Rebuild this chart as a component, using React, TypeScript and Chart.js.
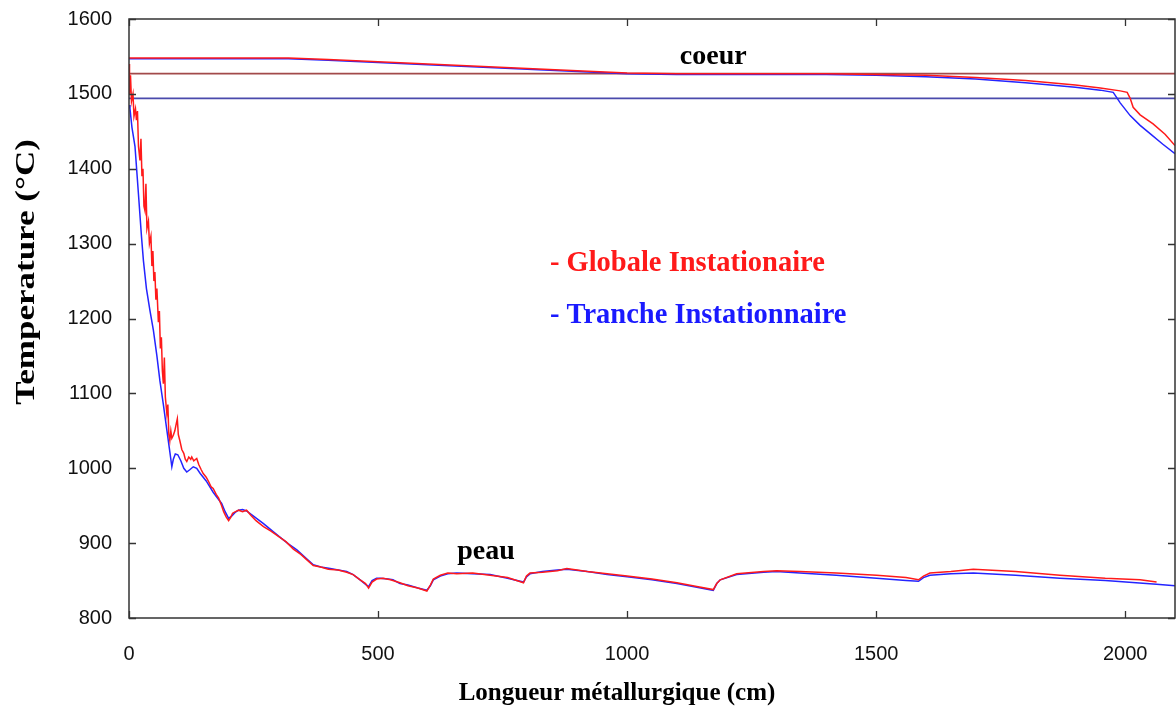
import React, { useEffect, useRef } from "react";
import { Chart, registerables } from "chart.js";

Chart.register(...registerables);

// ---- axes ----
const X_MIN = 0;
const X_MAX = 2100;
const Y_MIN = 800;
const Y_MAX = 1600;
const xTicks = [0, 500, 1000, 1500, 2000];
const yTicks = [800, 900, 1000, 1100, 1200, 1300, 1400, 1500, 1600];

// ---- texts ----
const xTitle = "Longueur métallurgique (cm)";
const yTitle = "Temperature (°C)";
const legendGlobale = "- Globale Instationaire";
const legendTranche = "- Tranche Instationnaire";
const labelCoeur = "coeur";
const labelPeau = "peau";

// ---- reference horizontal lines (°C) ----
const ligneHaute = 1527;
const ligneBasse = 1494;

// ---- coeur (core) temperature ----
const coeurGlobaleX = [0, 320, 400, 500, 600, 700, 800, 900, 1000, 1100, 1200, 1300, 1400, 1500, 1600, 1700, 1800, 1900, 1950, 1990, 2004, 2010, 2016, 2030, 2056, 2080, 2100];
const coeurGlobaleT = [1548, 1548, 1546, 1543, 1540, 1537, 1534, 1531, 1528, 1527, 1527, 1527, 1527, 1526, 1525, 1522, 1518, 1512, 1508, 1504, 1502, 1494, 1482, 1472, 1460, 1446, 1431];

const coeurTrancheX = [0, 320, 400, 500, 600, 700, 800, 900, 1000, 1100, 1200, 1300, 1400, 1500, 1600, 1700, 1800, 1900, 1950, 1976, 1990, 2010, 2030, 2050, 2075, 2100];
const coeurTrancheT = [1547, 1547, 1545, 1542, 1539, 1536, 1533, 1530, 1527, 1526, 1526, 1526, 1526, 1525, 1523, 1520, 1515, 1509, 1505, 1502, 1488, 1471, 1458, 1447, 1433, 1420];

// ---- peau (skin) temperature ----
const peauTrancheX = [0, 2, 6, 12, 19, 25, 29, 35, 42, 49, 56, 62, 69, 76, 82, 86, 89, 93, 98, 104, 110, 116, 122, 129, 136, 143, 155, 169, 178, 186, 193, 200, 206, 213, 220, 228, 236, 250, 270, 290, 303, 320, 337, 355, 370, 385, 404, 420, 437, 450, 464, 475, 481, 488, 497, 504, 520, 530, 544, 560, 580, 598, 605, 611, 625, 640, 658, 690, 725, 760, 792, 798, 805, 830, 860, 879, 920, 960, 1000, 1050, 1100, 1140, 1173, 1180, 1187, 1220, 1274, 1300, 1347, 1420, 1501, 1560, 1585, 1595, 1608, 1650, 1695, 1780, 1869, 1960, 2063, 2100];
const peauTrancheT = [1485, 1480, 1455, 1430, 1366, 1310, 1277, 1240, 1211, 1184, 1150, 1117, 1085, 1051, 1022, 1002, 1012, 1019, 1018, 1010, 1000, 995, 998, 1002, 1000, 993, 983, 968, 960, 953, 942, 933, 936, 941, 944, 945, 943, 936, 926, 915, 908, 899, 891, 880, 871, 868, 866, 864, 862, 858, 851, 845, 842, 850, 853, 853, 852, 851, 846, 844, 840, 837, 843, 851, 856, 859, 860, 859, 858, 853, 848, 855, 859, 862, 864, 865, 862, 858, 855, 851, 846, 841, 837, 846, 851, 858, 861, 862, 860, 857, 853, 850, 849, 854, 857, 859, 860, 857, 853, 850, 845, 843];

const peauGlobaleX = [0, 1, 3, 5, 8, 10, 13, 15, 17, 19, 22, 24, 26, 28, 30, 32, 34, 36, 39, 41, 44, 46, 48, 50, 52, 54, 56, 59, 61, 63, 65, 67, 69, 71, 73, 76, 78, 80, 82, 84, 86, 89, 92, 95, 97, 99, 102, 106, 110, 113, 116, 120, 124, 126, 130, 136, 140, 145, 149, 155, 160, 165, 169, 175, 180, 186, 190, 195, 200, 204, 208, 214, 220, 228, 236, 245, 255, 270, 285, 300, 315, 330, 345, 360, 370, 385, 400, 420, 437, 450, 464, 475, 481, 488, 497, 510, 525, 544, 560, 580, 598, 605, 611, 625, 640, 658, 690, 725, 760, 792, 798, 805, 830, 860, 879, 920, 960, 1000, 1050, 1100, 1140, 1173, 1180, 1187, 1220, 1274, 1300, 1347, 1420, 1501, 1560, 1585, 1595, 1608, 1650, 1695, 1780, 1869, 1960, 2030, 2063];
const peauGlobaleT = [1540, 1500, 1525, 1490, 1500, 1470, 1480, 1465, 1477, 1430, 1411, 1440, 1390, 1400, 1350, 1344, 1380, 1320, 1330, 1300, 1310, 1270, 1290, 1250, 1262, 1225, 1240, 1195, 1210, 1160, 1175, 1130, 1113, 1148, 1095, 1073, 1085, 1045, 1037, 1050, 1040, 1044, 1050, 1060, 1066, 1045, 1037, 1025, 1020, 1012, 1009, 1015, 1012, 1015, 1010, 1013, 1005, 998, 993, 988, 982, 975, 973, 965, 960, 950, 942, 935, 930, 934, 940, 942, 944, 942, 944, 937, 930, 922, 916, 909, 902, 892, 885, 876, 870, 868, 865, 864, 861, 858, 851, 846, 840, 848, 852, 853, 851, 847, 843, 840, 836, 844, 852, 857, 860, 859, 860, 857, 854, 847, 856, 860, 861, 863, 866, 862, 859, 856, 852, 847, 842, 838, 846, 851, 859, 862, 863, 862, 860, 857, 854, 851, 856, 860, 862, 865, 862, 857, 853, 851, 848];

const RED = "#ff1a1a";
const BLUE = "#2424ff";
const BROWN = "#a24a4a";
const NAVY = "#4a4aac";

// the canvas is shifted up by this many pixels on the page
const SHIFT = 10;

const toPoints = (xs: number[], ys: number[]) => xs.map((x, i) => ({ x, y: ys[i] }));

const overlayPlugin = {
  id: "overlay",
  afterDatasetsDraw(chart: any) {
    const { ctx, chartArea, scales } = chart;
    const { left, right, top, bottom } = chartArea;
    const xs = scales.x;
    const ys = scales.y;
    ctx.save();
    // frame
    ctx.strokeStyle = "#333333";
    ctx.lineWidth = 1.5;
    ctx.strokeRect(left, top, right - left, bottom - top);
    // inward ticks, mirrored
    ctx.lineWidth = 1.3;
    ctx.beginPath();
    const tl = 7;
    xTicks.forEach((v) => {
      const px = Math.round(xs.getPixelForValue(v)) + 0.5;
      ctx.moveTo(px, bottom);
      ctx.lineTo(px, bottom - tl);
      ctx.moveTo(px, top);
      ctx.lineTo(px, top + tl);
    });
    yTicks.forEach((v) => {
      const py = Math.round(ys.getPixelForValue(v)) + 0.5;
      ctx.moveTo(left, py);
      ctx.lineTo(left + tl, py);
      ctx.moveTo(right, py);
      ctx.lineTo(right - tl, py);
    });
    ctx.stroke();

    // annotations
    ctx.textBaseline = "alphabetic";
    ctx.fillStyle = "#000000";
    ctx.font = "bold 28px 'Liberation Serif', 'Times New Roman', serif";
    ctx.textAlign = "center";
    ctx.fillText(labelCoeur, xs.getPixelForValue(1173), ys.getPixelForValue(1540));
    ctx.textAlign = "left";
    ctx.fillText(labelPeau, xs.getPixelForValue(659), ys.getPixelForValue(879));

    ctx.font = "bold 28.5px 'Liberation Serif', 'Times New Roman', serif";
    ctx.fillStyle = "#ff1a1a";
    ctx.fillText(legendGlobale, xs.getPixelForValue(845), ys.getPixelForValue(1263));
    ctx.fillStyle = "#1a1aff";
    ctx.fillText(legendTranche, xs.getPixelForValue(845), ys.getPixelForValue(1194));

    // axis titles
    ctx.fillStyle = "#000000";
    ctx.font = "bold 25px 'Liberation Serif', 'Times New Roman', serif";
    ctx.textAlign = "center";
    ctx.fillText(xTitle, 617, 700 + SHIFT);

    ctx.save();
    ctx.translate(34, 272 + SHIFT);
    ctx.rotate(-Math.PI / 2);
    ctx.scale(1.25, 1);
    ctx.font = "bold 28px 'Liberation Serif', 'Times New Roman', serif";
    ctx.textAlign = "center";
    ctx.fillText(yTitle, 0, 0);
    ctx.restore();

    ctx.restore();
  },
};

export default function App() {
  const canvasRef = useRef<HTMLCanvasElement | null>(null);

  useEffect(() => {
    if (!canvasRef.current) return;
    const line = (data: any[], color: string, order: number, width = 1.5) => ({
      data,
      borderColor: color,
      backgroundColor: color,
      borderWidth: width,
      pointRadius: 0,
      tension: 0,
      fill: false,
      order,
    });
    const chart = new Chart(canvasRef.current, {
      type: "line",
      data: {
        datasets: [
          line(toPoints([X_MIN, X_MAX], [ligneHaute, ligneHaute]), BROWN, 6, 1.6),
          line(toPoints([X_MIN, X_MAX], [ligneBasse, ligneBasse]), NAVY, 6, 1.6),
          line(toPoints(coeurTrancheX, coeurTrancheT), BLUE, 3),
          line(toPoints(peauTrancheX, peauTrancheT), BLUE, 3),
          line(toPoints(coeurGlobaleX, coeurGlobaleT), RED, 1),
          line(toPoints(peauGlobaleX, peauGlobaleT), RED, 1),
        ] as any,
      },
      options: {
        responsive: false,
        animation: false,
        events: [],
        layout: { padding: { top: 8, right: 1, left: 0, bottom: 0 } },
        plugins: {
          legend: { display: false },
          tooltip: { enabled: false },
          title: { display: false },
        },
        scales: {
          x: {
            type: "linear",
            min: X_MIN,
            max: X_MAX,
            grid: { display: false, drawTicks: false },
            border: { display: false },
            afterBuildTicks: (scale: any) => {
              scale.ticks = xTicks.map((v) => ({ value: v }));
            },
            afterFit: (scale: any) => {
              scale.height = 93;
            },
            ticks: {
              padding: 24,
              color: "#111111",
              autoSkip: false,
              maxRotation: 0,
              font: { family: "'Liberation Sans', Arial, sans-serif", size: 20 },
              callback: (v: any) => String(v),
            },
          },
          y: {
            type: "linear",
            min: Y_MIN,
            max: Y_MAX,
            grid: { display: false, drawTicks: false },
            border: { display: false },
            afterBuildTicks: (scale: any) => {
              scale.ticks = yTicks.map((v) => ({ value: v }));
            },
            afterFit: (scale: any) => {
              scale.width = 129;
            },
            ticks: {
              padding: 17,
              color: "#111111",
              autoSkip: false,
              font: { family: "'Liberation Sans', Arial, sans-serif", size: 20 },
              callback: (v: any) => String(v),
            },
          },
        },
      } as any,
      plugins: [overlayPlugin],
    });
    return () => chart.destroy();
  }, []);

  return (
    <div style={{ position: "fixed", left: 0, top: -SHIFT, width: 1176, height: 711 + SHIFT, background: "#ffffff" }}>
      <canvas ref={canvasRef} width={1176} height={711 + SHIFT} style={{ display: "block" }} />
    </div>
  );
}
